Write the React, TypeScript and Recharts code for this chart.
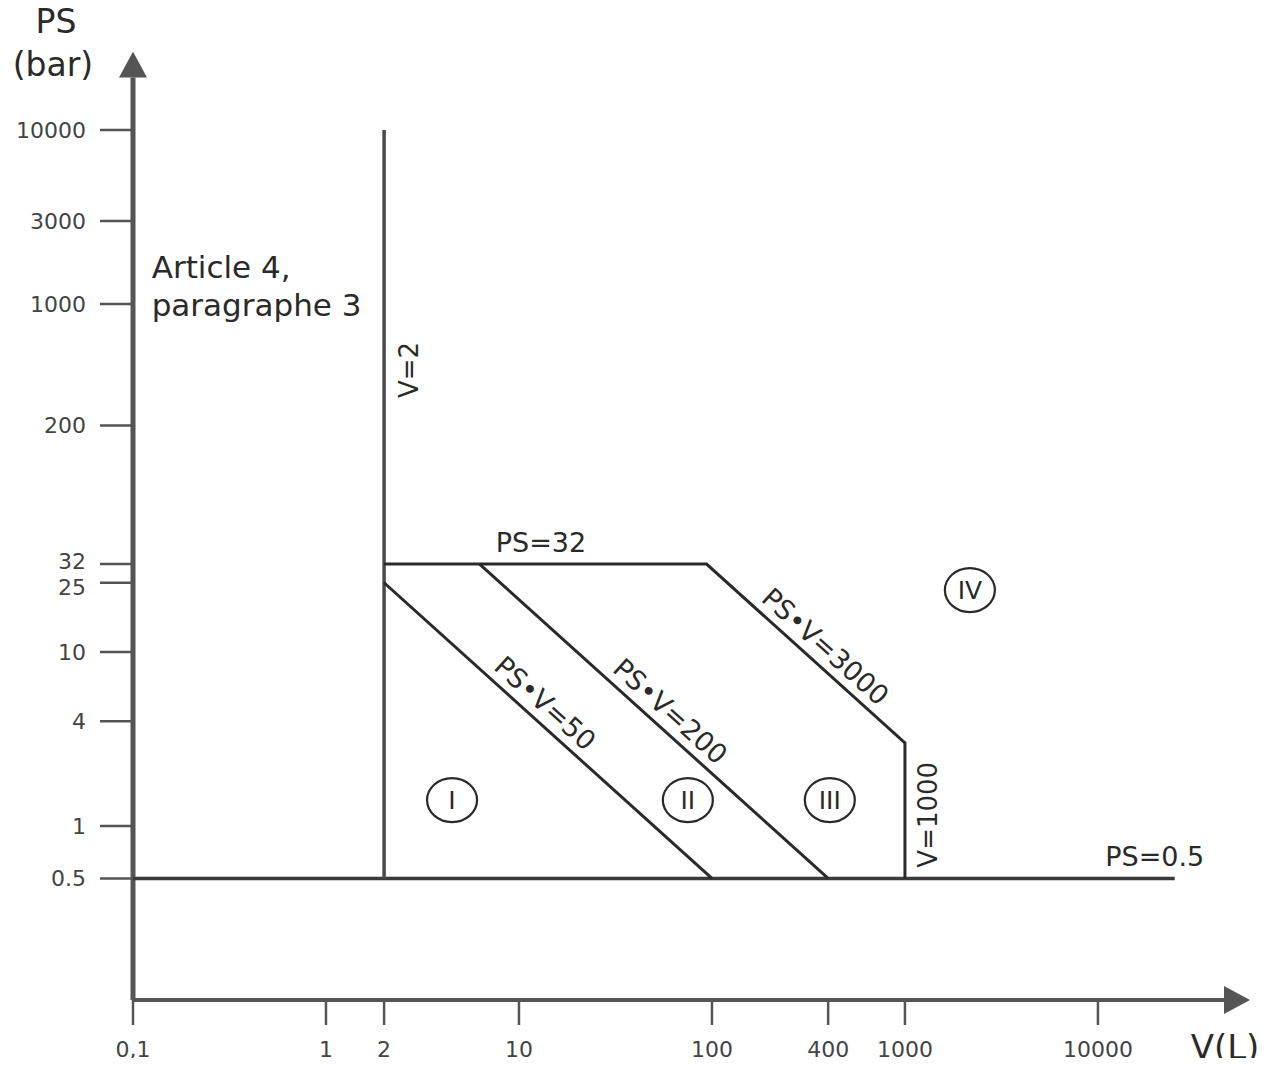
import React from "react";
import { ScatterChart, Scatter, XAxis, YAxis } from "recharts";

// axis ticks (log scales)
const volumeTicks = [0.1, 1, 2, 10, 100, 400, 1000, 10000];
const pressureTicks = [0.5, 1, 4, 10, 25, 32, 200, 1000, 3000, 10000];

// category boundaries (V in litres, PS in bar)
const lineV2 = [
  { v: 2, ps: 0.5 },
  { v: 2, ps: 10000 },
];
const linePs05 = [
  { v: 0.1, ps: 0.5 },
  { v: 25000, ps: 0.5 },
];
const linePsv3000 = [
  { v: 2, ps: 32 },
  { v: 93.75, ps: 32 },
  { v: 1000, ps: 3 },
  { v: 1000, ps: 0.5 },
];
const linePsv200 = [
  { v: 6.25, ps: 32 },
  { v: 400, ps: 0.5 },
];
const linePsv50 = [
  { v: 2, ps: 25 },
  { v: 100, ps: 0.5 },
];

// annotations
const slopeLabels = [
  { v: 11.8, ps: 4.23, text: "PS•V=50" },
  { v: 52.5, ps: 3.81, text: "PS•V=200" },
  { v: 334, ps: 8.98, text: "PS•V=3000" },
];
const verticalLabels = [
  { v: 2, ps: 418, text: "V=2" },
  { v: 1000, ps: 1.16, text: "V=1000" },
];
const flatLabels = [
  { v: 13, ps: 32, text: "PS=32" },
  { v: 19700, ps: 0.5, text: "PS=0.5" },
];
const categories = [
  { v: 4.5, ps: 1.41, text: "I" },
  { v: 75, ps: 1.41, text: "II" },
  { v: 408, ps: 1.41, text: "III" },
  { v: 2170, ps: 22.7, text: "IV" },
];
const articleNote = [{ v: 0.125, ps: 1410, text: "Article 4,|paragraphe 3" }];

const FONT = "'DejaVu Sans', sans-serif";
const INK = "#2a2a2a";
const AXIS = "#555";

const noDot = () => <g />;

const SlopeLabel = (p: any) => (
  <text
    transform={`translate(${p.cx},${p.cy}) rotate(42)`}
    textAnchor="middle"
    dy={-9}
    fontSize={27}
    fontFamily={FONT}
    fill={INK}
  >
    {p.payload.text}
  </text>
);

const VerticalLabel = (p: any) => (
  <text
    transform={`translate(${p.cx},${p.cy}) rotate(-90)`}
    textAnchor="middle"
    dy={p.payload.v > 100 ? 32 : 34}
    fontSize={26}
    fontFamily={FONT}
    fill={INK}
  >
    {p.payload.text}
  </text>
);

const FlatLabel = (p: any) => (
  <text x={p.cx} y={p.cy} dy={-12} textAnchor="middle" fontSize={27} fontFamily={FONT} fill={INK}>
    {p.payload.text}
  </text>
);

const CategoryMark = (p: any) => (
  <g>
    <ellipse cx={p.cx} cy={p.cy} rx={25} ry={22} fill="none" stroke={INK} strokeWidth={2.2} />
    <text x={p.cx} y={p.cy} dy="0.36em" textAnchor="middle" fontSize={25} fontFamily={FONT} fill={INK}>
      {p.payload.text}
    </text>
  </g>
);

const NoteLabel = (p: any) => {
  const [a, b] = p.payload.text.split("|");
  return (
    <text x={p.cx} y={p.cy} fontSize={31} fontFamily={FONT} fill={INK}>
      <tspan x={p.cx}>{a}</tspan>
      <tspan x={p.cx} dy={38}>{b}</tspan>
    </text>
  );
};

// 32 and 25 sit very close: nudge them apart a little
const PressureTick = (p: any) => {
  const val = p.payload.value;
  const shift = val === 32 ? -3 : val === 25 ? 4 : 0;
  return (
    <text x={p.x} y={p.y + shift} dy="0.355em" textAnchor="end" fontSize={22} fontFamily={FONT} fill="#444">
      {val}
    </text>
  );
};

const fmtV = (v: number) => (v === 0.1 ? "0,1" : String(v));

const App = () => {
  const boundary = { stroke: INK, strokeWidth: 3 };
  return (
    <div style={{ position: "relative", margin: -8, width: 1285, height: 1066, background: "#fff" }}>
      <svg width={0} height={0} style={{ position: "absolute" }}>
        <defs>
          <marker
            id="arrowHead"
            viewBox="0 0 10 10"
            refX={0}
            refY={5}
            markerUnits="userSpaceOnUse"
            markerWidth={26}
            markerHeight={28}
            preserveAspectRatio="none"
            orient="auto-start-reverse"
          >
            <path d="M0,0 L10,5 L0,10 z" fill={AXIS} />
          </marker>
        </defs>
      </svg>
      <ScatterChart width={1285} height={1066} margin={{ top: 77.6, right: 61, bottom: 6, left: 0 }}>
        <XAxis
          type="number"
          dataKey="v"
          scale="log"
          domain={[0.1, 45000]}
          allowDataOverflow
          ticks={volumeTicks}
          interval={0}
          tickFormatter={fmtV}
          height={60}
          tickSize={25}
          tickMargin={16}
          axisLine={{ stroke: AXIS, strokeWidth: 4, markerEnd: "url(#arrowHead)" }}
          tickLine={{ stroke: AXIS, strokeWidth: 2.5 }}
          tick={{ fill: "#444", fontSize: 22, fontFamily: FONT }}
        />
        <YAxis
          type="number"
          dataKey="ps"
          scale="log"
          domain={[0.1, 20000]}
          allowDataOverflow
          ticks={pressureTicks}
          interval={0}
          width={133}
          tickSize={33}
          tickMargin={14}
          axisLine={{ stroke: AXIS, strokeWidth: 5, markerStart: "url(#arrowHead)" }}
          tickLine={{ stroke: AXIS, strokeWidth: 2.5 }}
          tick={PressureTick}
        />
        <Scatter data={linePs05} line={{ stroke: "#3a3a3a", strokeWidth: 3.5 }} shape={noDot} isAnimationActive={false} />
        <Scatter data={lineV2} line={{ stroke: "#4a4a4a", strokeWidth: 3.5 }} shape={noDot} isAnimationActive={false} />
        <Scatter data={linePsv3000} line={boundary} shape={noDot} isAnimationActive={false} />
        <Scatter data={linePsv200} line={boundary} shape={noDot} isAnimationActive={false} />
        <Scatter data={linePsv50} line={boundary} shape={noDot} isAnimationActive={false} />
        <Scatter data={slopeLabels} shape={SlopeLabel} isAnimationActive={false} />
        <Scatter data={verticalLabels} shape={VerticalLabel} isAnimationActive={false} />
        <Scatter data={flatLabels} shape={FlatLabel} isAnimationActive={false} />
        <Scatter data={categories} shape={CategoryMark} isAnimationActive={false} />
        <Scatter data={articleNote} shape={NoteLabel} isAnimationActive={false} />
      </ScatterChart>
      <svg width={1285} height={1066} style={{ position: "absolute", left: 0, top: 0, pointerEvents: "none" }}>
        <text x={56} y={33} textAnchor="middle" fontSize={33} fontFamily={FONT} fill={INK}>PS</text>
        <text x={53} y={76} textAnchor="middle" fontSize={33} fontFamily={FONT} fill={INK}>(bar)</text>
        <text x={1225} y={1059} textAnchor="middle" fontSize={34} fontFamily={FONT} fill={INK}>V(L)</text>
      </svg>
    </div>
  );
};

export default App;
